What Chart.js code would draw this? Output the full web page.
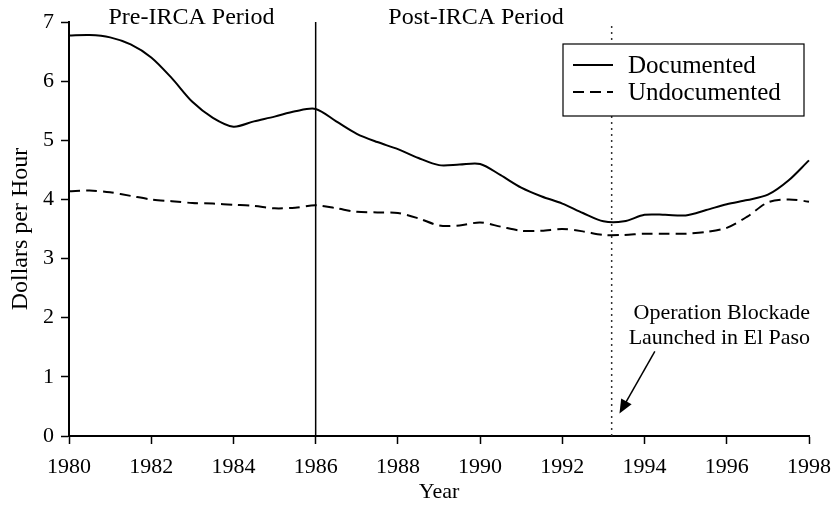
<!DOCTYPE html>
<html>
<head>
<meta charset="utf-8">
<script src="https://cdn.jsdelivr.net/npm/chart.js@4"></script>
<style>
  body { margin: 0; background: #fff; }
</style>
</head>
<body>
<canvas id="wageChart" width="837" height="505"></canvas>
<script>
// half-year points
const years = [1980.0, 1980.5, 1981.0, 1981.5, 1982.0, 1982.5, 1983.0, 1983.5, 1984.0, 1984.5,
  1985.0, 1985.5, 1986.0, 1986.5, 1987.0, 1987.5, 1988.0, 1988.5, 1989.0, 1989.5,
  1990.0, 1990.5, 1991.0, 1991.5, 1992.0, 1992.5, 1993.0, 1993.5, 1994.0, 1994.5,
  1995.0, 1995.5, 1996.0, 1996.5, 1997.0, 1997.5, 1998.0, 1998.15];

const documented = [6.77, 6.78, 6.74, 6.62, 6.40, 6.05, 5.65, 5.38, 5.23, 5.32,
  5.40, 5.49, 5.53, 5.32, 5.11, 4.97, 4.85, 4.70, 4.58, 4.59,
  4.60, 4.41, 4.20, 4.05, 3.93, 3.77, 3.63, 3.63, 3.74, 3.74,
  3.73, 3.82, 3.92, 3.99, 4.08, 4.32, 4.66, 4.75];

const undocumented = [4.14, 4.15, 4.12, 4.06, 4.00, 3.97, 3.94, 3.93, 3.91, 3.89,
  3.85, 3.86, 3.90, 3.85, 3.79, 3.78, 3.77, 3.68, 3.56, 3.56,
  3.61, 3.54, 3.47, 3.47, 3.50, 3.46, 3.40, 3.40, 3.42, 3.42,
  3.42, 3.45, 3.52, 3.71, 3.95, 4.00, 3.96, 3.92];

const seriesNames = ['Documented', 'Undocumented'];
const ircaYear = 1986;
const blockadeYear = 1993.2;
const periodLabels = ['Pre-IRCA Period', 'Post-IRCA Period'];
const periodCenters = [1982.98, 1989.9];
const noteLines = ['Operation Blockade', 'Launched in El Paso'];

const serif = "'Liberation Serif', 'Times New Roman', serif";

function pts(vals) {
  return vals.map((v, i) => ({ x: years[i], y: v }));
}

const overlay = {
  id: 'overlay',
  afterDatasetsDraw(chart) {
    const ctx = chart.ctx;
    const xs = chart.scales.x, ys = chart.scales.y;
    ctx.save();
    ctx.fillStyle = '#000';
    ctx.strokeStyle = '#000';

    // period labels
    ctx.font = '24px ' + serif;
    ctx.textAlign = 'center';
    ctx.textBaseline = 'middle';
    periodLabels.forEach((t, i) => {
      ctx.fillText(t, xs.getPixelForValue(periodCenters[i]), 18);
    });

    // blockade note + arrow
    ctx.font = '22px ' + serif;
    ctx.fillText(noteLines[0], xs.getPixelForValue(1995.88), ys.getPixelForValue(2.08));
    ctx.fillText(noteLines[1], xs.getPixelForValue(1995.82), ys.getPixelForValue(1.65));

    const x1 = xs.getPixelForValue(1994.25), y1 = ys.getPixelForValue(1.43);
    const x2 = xs.getPixelForValue(1993.39), y2 = ys.getPixelForValue(0.38);
    const ang = Math.atan2(y2 - y1, x2 - x1);
    ctx.lineWidth = 1.5;
    ctx.beginPath();
    ctx.moveTo(x1, y1);
    ctx.lineTo(x2 - 8 * Math.cos(ang), y2 - 8 * Math.sin(ang));
    ctx.stroke();
    ctx.beginPath();
    ctx.moveTo(x2, y2);
    ctx.lineTo(x2 - 14 * Math.cos(ang) + 6 * Math.sin(ang), y2 - 14 * Math.sin(ang) - 6 * Math.cos(ang));
    ctx.lineTo(x2 - 14 * Math.cos(ang) - 6 * Math.sin(ang), y2 - 14 * Math.sin(ang) + 6 * Math.cos(ang));
    ctx.closePath();
    ctx.fill();

    // legend box
    const bx = 563, by = 44, bw = 241, bh = 72;
    ctx.fillStyle = '#fff';
    ctx.fillRect(bx, by, bw, bh);
    ctx.lineWidth = 1.2;
    ctx.strokeRect(bx, by, bw, bh);
    ctx.fillStyle = '#000';
    ctx.font = '25px ' + serif;
    ctx.textAlign = 'left';
    [0, 1].forEach(i => {
      const ds = chart.data.datasets[i];
      const yy = 65 + i * 27;
      ctx.lineWidth = 2;
      ctx.setLineDash(ds.borderDash || []);
      ctx.beginPath();
      ctx.moveTo(573, yy);
      ctx.lineTo(613, yy);
      ctx.stroke();
      ctx.setLineDash([]);
      ctx.fillText(ds.label, 628, yy + 1);
    });
    ctx.restore();
  }
};

new Chart(document.getElementById('wageChart'), {
  type: 'line',
  data: {
    datasets: [
      {
        label: seriesNames[0],
        data: pts(documented),
        borderColor: '#000',
        borderWidth: 2,
        pointRadius: 0,
        tension: 0.3,
        clip: 10
      },
      {
        label: seriesNames[1],
        data: pts(undocumented),
        borderColor: '#000',
        borderWidth: 2,
        borderDash: [11, 6],
        pointRadius: 0,
        tension: 0.3,
        clip: 10
      },
      {
        label: 'IRCA',
        data: [{ x: ircaYear, y: 0 }, { x: ircaYear, y: 7 }],
        borderColor: '#000',
        borderWidth: 1.5,
        pointRadius: 0
      },
      {
        label: 'Blockade',
        data: [{ x: blockadeYear, y: 0 }, { x: blockadeYear, y: 6.95 }],
        borderColor: '#333',
        borderWidth: 1.5,
        borderDash: [2, 4],
        pointRadius: 0
      }
    ]
  },
  options: {
    responsive: false,
    animation: false,
    devicePixelRatio: 1,
    layout: { padding: { top: 22, right: 28, left: 0, bottom: 0 } },
    plugins: {
      legend: { display: false },
      tooltip: { enabled: false }
    },
    scales: {
      x: {
        type: 'linear',
        min: 1980,
        max: 1998,
        afterFit: s => { s.height = 69; s.paddingLeft = 0; s.paddingRight = 0; },
        ticks: {
          stepSize: 2,
          color: '#000',
          padding: 10,
          font: { family: serif, size: 22 },
          callback: v => String(v)
        },
        grid: { drawOnChartArea: false, tickLength: 8, tickColor: '#000', tickWidth: 1.5 },
        border: { color: '#000', width: 2 },
        title: {
          display: true,
          text: 'Year',
          color: '#000',
          font: { family: serif, size: 22 },
          padding: { top: 0, bottom: 0 }
        }
      },
      y: {
        min: 0,
        max: 7,
        afterFit: s => { s.width = 69; },
        ticks: {
          stepSize: 1,
          color: '#000',
          padding: 7,
          font: { family: serif, size: 22 }
        },
        grid: { drawOnChartArea: false, tickLength: 8, tickColor: '#000', tickWidth: 1.5 },
        border: { color: '#000', width: 2 },
        title: {
          display: true,
          text: 'Dollars per Hour',
          color: '#000',
          font: { family: serif, size: 24 },
          padding: { top: 6, bottom: 0 }
        }
      }
    }
  },
  plugins: [overlay]
});
</script>
</body>
</html>
